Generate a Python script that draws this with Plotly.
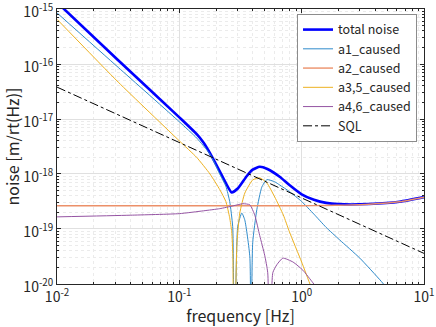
import plotly.graph_objects as go

# total noise
f_total = [0.01, 0.0316, 0.1, 0.1387, 0.158, 0.178, 0.214, 0.24, 0.268, 0.302, 0.355, 0.398, 0.454,
           0.525, 0.661, 0.794, 1.0, 1.26, 1.585, 2.24, 3.55, 6.31, 10]
v_total = [1.32e-15, 1.17e-16, 1.07e-17, 5.3e-18, 3.7e-18, 2.4e-18, 1.12e-18, 6.8e-19, 4.6e-19, 5.5e-19,
           9.1e-19, 1.2e-18, 1.35e-18, 1.23e-18, 8.9e-19, 6.3e-19, 4.27e-19, 3.4e-19, 2.98e-19,
           2.8e-19, 2.84e-19, 3.13e-19, 3.8e-19]

# a1_caused
f_a1 = [0.01, 0.0316, 0.1, 0.1387, 0.178, 0.214, 0.24, 0.258, 0.273, 0.282, 0.30, 0.324, 0.343,
        0.377, 0.384, 0.398, 0.43, 0.472, 0.519, 0.603, 0.662, 0.794, 1.0, 1.26, 1.585, 2.05,
        2.99, 4.5, 6.0]
v_a1 = [8.5e-16, 8.7e-17, 8.9e-18, 4.5e-18, 2.3e-18, 1.0e-18, 6.0e-19, 3.16e-19, 1.1e-19, 1e-22,
        1.1e-19, 1.95e-19, 1.45e-19, 3.1e-20, 1e-22, 5.6e-20, 2.24e-19, 5.75e-19, 7.9e-19, 7.2e-19,
        6.3e-19, 4.8e-19, 3.16e-19, 1.86e-19, 1.07e-19, 6.3e-20, 2.95e-20, 1.1e-20, 5e-21]

# a2_caused
f_a2 = [0.01, 0.1, 1.0, 1.585, 2.24, 3.55, 6.31, 10]
v_a2 = [2.65e-19, 2.65e-19, 2.65e-19, 2.67e-19, 2.72e-19, 2.82e-19, 3.12e-19, 3.78e-19]

# a3,5_caused
f_a35 = [0.01, 0.0316, 0.1, 0.1387, 0.178, 0.214, 0.24, 0.258, 0.268, 0.274, 0.278, 0.296,
         0.312, 0.343, 0.398, 0.454, 0.519, 0.603, 0.708, 0.794, 1.0, 1.15, 1.32]
v_a35 = [6.5e-16, 4.7e-17, 4.0e-18, 2.0e-18, 1.0e-18, 5.2e-19, 3.16e-19, 1.6e-19, 8.9e-20, 3.2e-20,
         1e-22, 5.6e-20, 1.95e-19, 4.5e-19, 7.8e-19, 8.5e-19, 6.9e-19, 3.8e-19, 1.8e-19, 8.9e-20,
         2.5e-20, 1.1e-20, 5e-21]

# a4,6_caused
f_a46 = [0.01, 0.0398, 0.1, 0.158, 0.214, 0.275, 0.331, 0.377, 0.414, 0.454, 0.499, 0.528, 0.55,
         0.581, 0.627, 0.702, 0.851, 1.023, 1.236, 1.41]
v_a46 = [1.66e-19, 1.78e-19, 1.9e-19, 2.14e-19, 2.34e-19, 2.63e-19, 2.88e-19, 2.75e-19, 1.78e-19,
         7.6e-20, 3.3e-20, 1.6e-20, 1e-22, 1.6e-20, 2.24e-20, 2.95e-20, 2.5e-20, 1.78e-20, 1.05e-20, 7e-21]

# SQL
f_sql = [0.01, 10]
v_sql = [3.8e-17, 3.6e-20]

xticks = [0.01, 0.1, 1, 10]
xticklabels = ['10<sup>-2</sup>', '10<sup>-1</sup>', '10<sup>0</sup>', '10<sup>1</sup>']
yticks = [1e-20, 1e-19, 1e-18, 1e-17, 1e-16, 1e-15]
yticklabels = ['10<sup>-20</sup>', '10<sup>-19</sup>', '10<sup>-18</sup>',
               '10<sup>-17</sup>', '10<sup>-16</sup>', '10<sup>-15</sup>']

# minor ticks 2..9 in each decade
xminor = [m * d for d in [0.01, 0.1, 1] for m in range(2, 10)]
yminor = [m * d for d in [1e-20, 1e-19, 1e-18, 1e-17, 1e-16] for m in range(2, 10)]

fig = go.Figure()
sp = dict(shape='spline', smoothing=0.5)
fig.add_trace(go.Scatter(x=f_total, y=v_total, name='total noise', mode='lines',
                         line=dict(color='#0000FF', width=2.6, **sp)))
fig.add_trace(go.Scatter(x=f_a1, y=v_a1, name='a1_caused', mode='lines',
                         line=dict(color='#2F8BCB', width=1, **sp)))
fig.add_trace(go.Scatter(x=f_a2, y=v_a2, name='a2_caused', mode='lines',
                         line=dict(color='#EC9069', width=1.4, **sp)))
fig.add_trace(go.Scatter(x=f_a35, y=v_a35, name='a3,5_caused', mode='lines',
                         line=dict(color='#EDB120', width=1, **sp)))
fig.add_trace(go.Scatter(x=f_a46, y=v_a46, name='a4,6_caused', mode='lines',
                         line=dict(color='#9554A3', width=1, **sp)))
fig.add_trace(go.Scatter(x=f_sql, y=v_sql, name='SQL', mode='lines',
                         line=dict(color='black', width=1, dash='dashdot')))

axis_common = dict(
    type='log', showline=True, linecolor='#262626', automargin=False,
    linewidth=1, mirror='allticks', ticks='inside', ticklen=4, tickcolor='#262626',
    showgrid=True, gridcolor='#E0E0E0', gridwidth=1, zeroline=False,
    tickfont=dict(size=14, color='#262626'), ticklabeloverflow='allow',
)

fig.update_layout(
    width=436, height=327,
    margin=dict(l=57, r=12, t=9, b=43),
    paper_bgcolor='white', plot_bgcolor='white',
    font=dict(family='Noto Sans CJK JP', size=13, color='#262626'),
    xaxis=dict(range=[-2.0005, 1.0005], tickvals=xticks, ticktext=xticklabels,
               minor=dict(tickvals=xminor, ticks='inside', ticklen=2, tickcolor='#262626',
                          showgrid=True, gridcolor='#EBEBEB', griddash='dot'),
               title=dict(text='frequency [Hz]', standoff=2), **axis_common),
    yaxis=dict(range=[-20.001, -14.999], tickvals=yticks, ticktext=yticklabels,
               ticklabelshift=3,
               minor=dict(tickvals=yminor, ticks='inside', ticklen=2, tickcolor='#262626',
                          showgrid=True, gridcolor='#EBEBEB', griddash='dot'),
               title=dict(text='noise [m/rt(Hz)]', standoff=4), **axis_common),
    legend=dict(x=0.981, y=0.982, xanchor='right', yanchor='top', bgcolor='white',
                bordercolor='#8C8C8C', borderwidth=1, font=dict(size=12.5),
                tracegroupgap=0, itemwidth=30),
    showlegend=True,
)

fig.write_html("out.html", config={'displayModeBar': False},
               post_script="document.body.style.margin='0';")
